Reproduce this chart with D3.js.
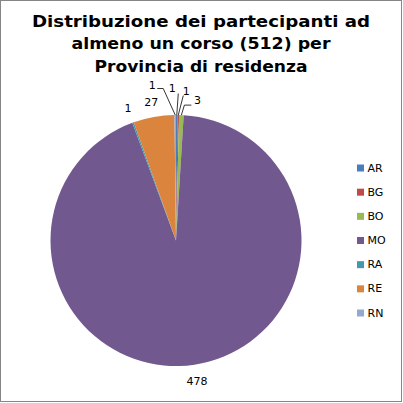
<!DOCTYPE html>
<html>
<head>
<meta charset="utf-8">
<script src="https://cdn.jsdelivr.net/npm/d3@7"></script>
<style>
html,body{margin:0;padding:0;background:#fff;}
svg{display:block;}
</style>
</head>
<body>
<svg id="chart" width="403" height="403"></svg>
<script>
const categories = ["AR", "BG", "BO", "MO", "RA", "RE", "RN"];
const values = [1, 1, 3, 478, 1, 27, 1];
const colors = ["#4A7EBB", "#BE4B48", "#98B954", "#71588F", "#4198AF", "#DB843D", "#93A9CF"];
const titleLines = ["Distribuzione dei partecipanti ad", "almeno un corso (512) per", "Provincia di residenza"];
const titleWidths = [338, 259, 213];

// label layout (style): offsets relative to the slice's outer edge point, optional leader elbow
const labelLayout = {
  AR: {dx: -4.5, dy: -26.5, leader: [[1.5, -21.5]]},
  BG: {dx: 8, dy: -23.5, leader: [[5, -19.5]]},
  BO: {dx: 16, dy: -14.5, leader: [[3, -10], [10, -10]]},
  MO: {radial: 143},
  RA: {radial: 140},
  RE: {radial: 140},
  RN: {dx: -23, dy: -29.5, leader: [[-12, -26.5], [-18, -26.5]]}
};

const W = 403, H = 403;
const cx = 176, cy = 240.5, R = 125.5;
const svg = d3.select("#chart");

svg.append("rect").attr("x", 0.5).attr("y", 0.5).attr("width", W - 2).attr("height", H - 2)
  .attr("fill", "#fff").attr("stroke", "#868686").attr("stroke-width", 1);

const title = svg.append("text").attr("text-anchor", "middle")
  .attr("font-family", "DejaVu Sans, Verdana, sans-serif").attr("font-weight", "bold")
  .attr("font-size", 16.5).attr("fill", "#000");
titleLines.forEach((t, i) => {
  title.append("tspan").attr("x", 201).attr("y", 26.5 + i * 22.8)
    .attr("textLength", titleWidths[i]).attr("lengthAdjust", "spacingAndGlyphs").text(t);
});

const data = categories.map((c, i) => ({cat: c, value: values[i], color: colors[i]}));
const pie = d3.pie().sort(null).value(d => d.value);
const arcs = pie(data);
const arc = d3.arc().innerRadius(0).outerRadius(R);

const g = svg.append("g").attr("transform", `translate(${cx},${cy})`);
g.selectAll("path.slice").data(arcs).join("path").attr("class", "slice")
  .attr("d", arc).attr("fill", d => d.data.color);

function polar(a, r) { return [Math.sin(a) * r, -Math.cos(a) * r]; }

const labelG = g.append("g").attr("font-family", "DejaVu Sans, Verdana, sans-serif")
  .attr("font-size", 11).attr("fill", "#000");

arcs.forEach(d => {
  const mid = (d.startAngle + d.endAngle) / 2;
  const lay = labelLayout[d.data.cat];
  let lx, ly;
  if (lay.radial) {
    [lx, ly] = polar(mid, lay.radial);
  } else {
    const [ex, ey] = polar(mid, R);
    lx = ex + lay.dx; ly = ey + lay.dy;
    const pts = [[ex, ey]].concat(lay.leader.map(p => [ex + p[0], ey + p[1]]));
    g.append("path").attr("d", d3.line()(pts)).attr("fill", "none")
      .attr("stroke", "#000").attr("stroke-width", 0.8);
  }
  labelG.append("text").attr("x", lx).attr("y", ly).attr("text-anchor", "middle")
    .attr("dominant-baseline", "central").text(d.data.value);
});

const legend = svg.append("g").attr("font-family", "DejaVu Sans, Verdana, sans-serif")
  .attr("font-size", 11).attr("fill", "#000");
const ly = d3.scalePoint().domain(categories).range([168, 313]);
categories.forEach((c, i) => {
  legend.append("rect").attr("x", 357).attr("y", ly(c) - 3.5).attr("width", 7).attr("height", 7)
    .attr("fill", colors[i]);
  legend.append("text").attr("x", 367.5).attr("y", ly(c)).attr("dominant-baseline", "central").text(c);
});
</script>
</body>
</html>
